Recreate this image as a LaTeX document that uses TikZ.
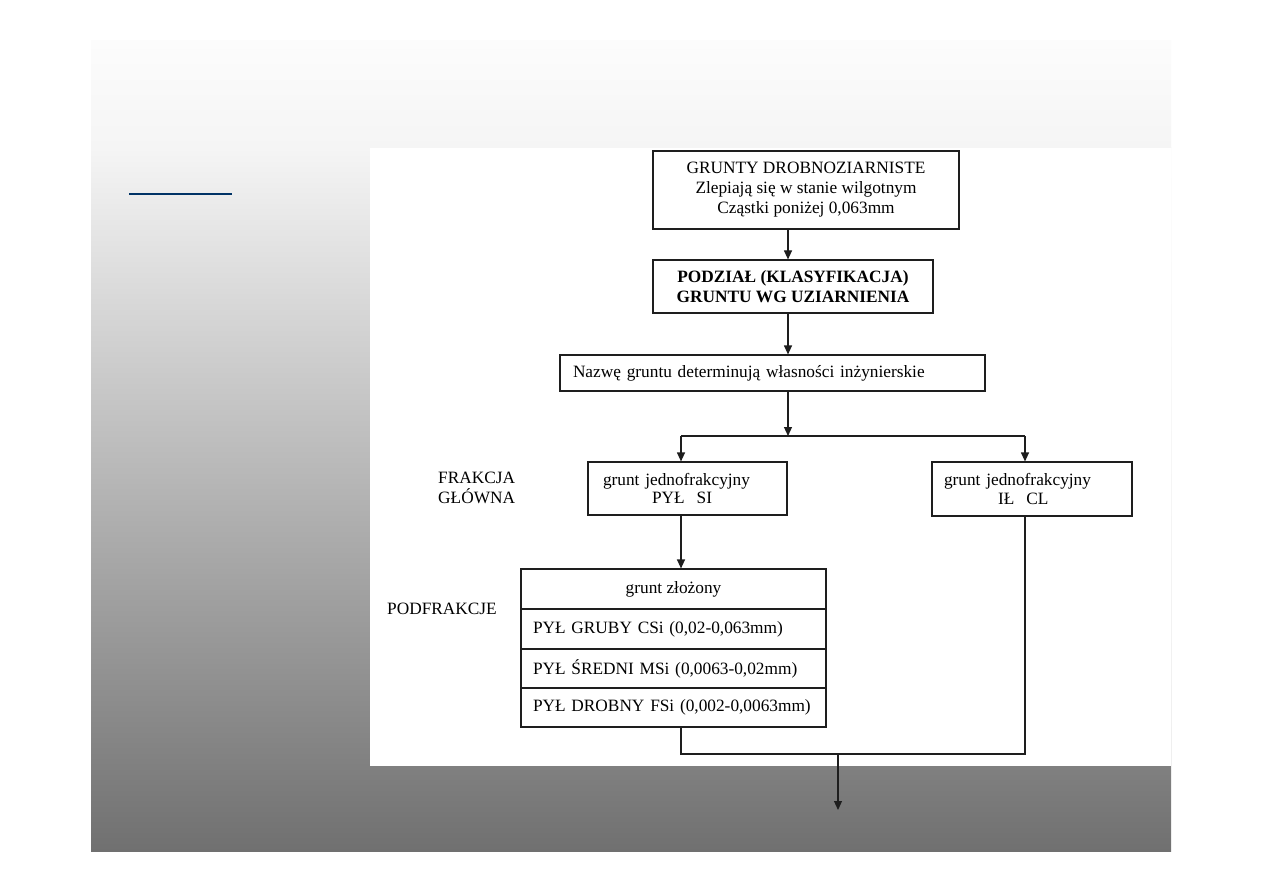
\documentclass[tikz,border=0pt]{standalone}
\usepackage{fontspec}
\setmainfont{Liberation Serif}
\usetikzlibrary{arrows.meta,calc}
\definecolor{slidetop}{RGB}{252,252,252}
\definecolor{slidemid}{RGB}{245,245,245}
\definecolor{slidebot}{RGB}{112,112,112}
\definecolor{rulecol}{RGB}{0,51,102}
\definecolor{linecol}{RGB}{30,30,30}
\begin{document}
\begin{tikzpicture}[x=1pt,y=-1pt,
  box/.style={draw=linecol,line width=1.15pt,fill=white,inner sep=0pt,font=\fontsize{17.3}{20}\selectfont},
  conn/.style={draw=linecol,line width=1.15pt},
  arr/.style={conn,-{Triangle[length=9pt,width=8pt]}},
  lbl/.style={inner sep=0pt,font=\fontsize{17.3}{20}\selectfont,align=left,anchor=west}]
\path[use as bounding box, fill=white] (0,0) rectangle (1263,893);
\shade[top color=slidetop,bottom color=slidemid] (91,41) rectangle (1171,148);
\shade[top color=slidemid,bottom color=slidebot] (91,148) rectangle (1171,851);
\fill[white] (370,148) rectangle (1171,766);
\draw[rulecol,line width=2.2pt] (129,194) -- (232,194);

\node[box,minimum width=306pt,minimum height=78pt,align=center] (b1) at (806,190)
  {GRUNTY DROBNOZIARNISTE\\Zlepiają się w stanie wilgotnym\\Cząstki poniżej 0,063mm};
\node[box,minimum width=280pt,minimum height=53pt,align=center,font=\fontsize{17.3}{20}\selectfont\bfseries] (b2) at (793,286.5)
  {PODZIAŁ (KLASYFIKACJA)\\GRUNTU WG UZIARNIENIA};
\node[box,minimum width=425pt,minimum height=36pt,inner xsep=13pt,text width=399pt,align=left] (b3) at (772.5,373)
  {Nazwę gruntu determinują własności inżynierskie};
\node[box,minimum width=199pt,minimum height=53pt,inner xsep=15pt,text width=169pt,align=left,font=\fontsize{17.3}{18}\selectfont] (pyl) at (687.5,488.5)
  {grunt jednofrakcyjny\\\hspace*{49pt}PYŁ\hspace{12pt}SI};
\node[box,minimum width=200pt,minimum height=54pt,inner xsep=12pt,text width=176pt,align=left,font=\fontsize{17.3}{19}\selectfont] (il) at (1032,489)
  {grunt jednofrakcyjny\\\hspace*{54pt}IŁ\hspace{12pt}CL};

\node[box,minimum width=305pt,minimum height=40pt,align=center] (t0) at (673.5,589) {grunt złożony};
\node[box,minimum width=305pt,minimum height=40pt,inner xsep=12pt,text width=281pt,align=left] (t1) at (673.5,629) {PYŁ GRUBY CSi (0,02-0,063mm)};
\node[box,minimum width=305pt,minimum height=39pt,inner xsep=12pt,text width=281pt,align=left] (t2) at (673.5,668.5) {PYŁ ŚREDNI MSi (0,0063-0,02mm)};
\node[box,minimum width=305pt,minimum height=39pt,inner xsep=12pt,text width=281pt,align=left] (t3) at (673.5,707.5) {PYŁ DROBNY FSi (0,002-0,0063mm)};

\node[lbl] (lf) at (438,488) {FRAKCJA\\GŁÓWNA};
\node[lbl] (lp) at (387,609) {PODFRAKCJE};

\coordinate (cx) at (788,0);
\coordinate (cl) at (681,0);
\coordinate (cr) at (1025,0);
\coordinate (split) at (788,436);
\coordinate (m) at (838,754);
\coordinate (out) at (838,810);

\draw[arr] (b1.south -| cx) -- (b2.north -| cx);
\draw[arr] (b2.south -| cx) -- (b3.north -| cx);
\draw[arr] (b3.south -| cx) -- (split);
\draw[conn] (split -| cl) -- (split -| cr);
\draw[arr] (split -| cl) -- (pyl.north -| cl);
\draw[arr] (split -| cr) -- (il.north -| cr);
\draw[arr] (pyl.south -| cl) -- (t0.north -| cl);
\draw[conn] (t3.south -| cl) |- (m) -| (il.south -| cr);
\draw[arr] (m) -- (out);
\end{tikzpicture}
\end{document}
